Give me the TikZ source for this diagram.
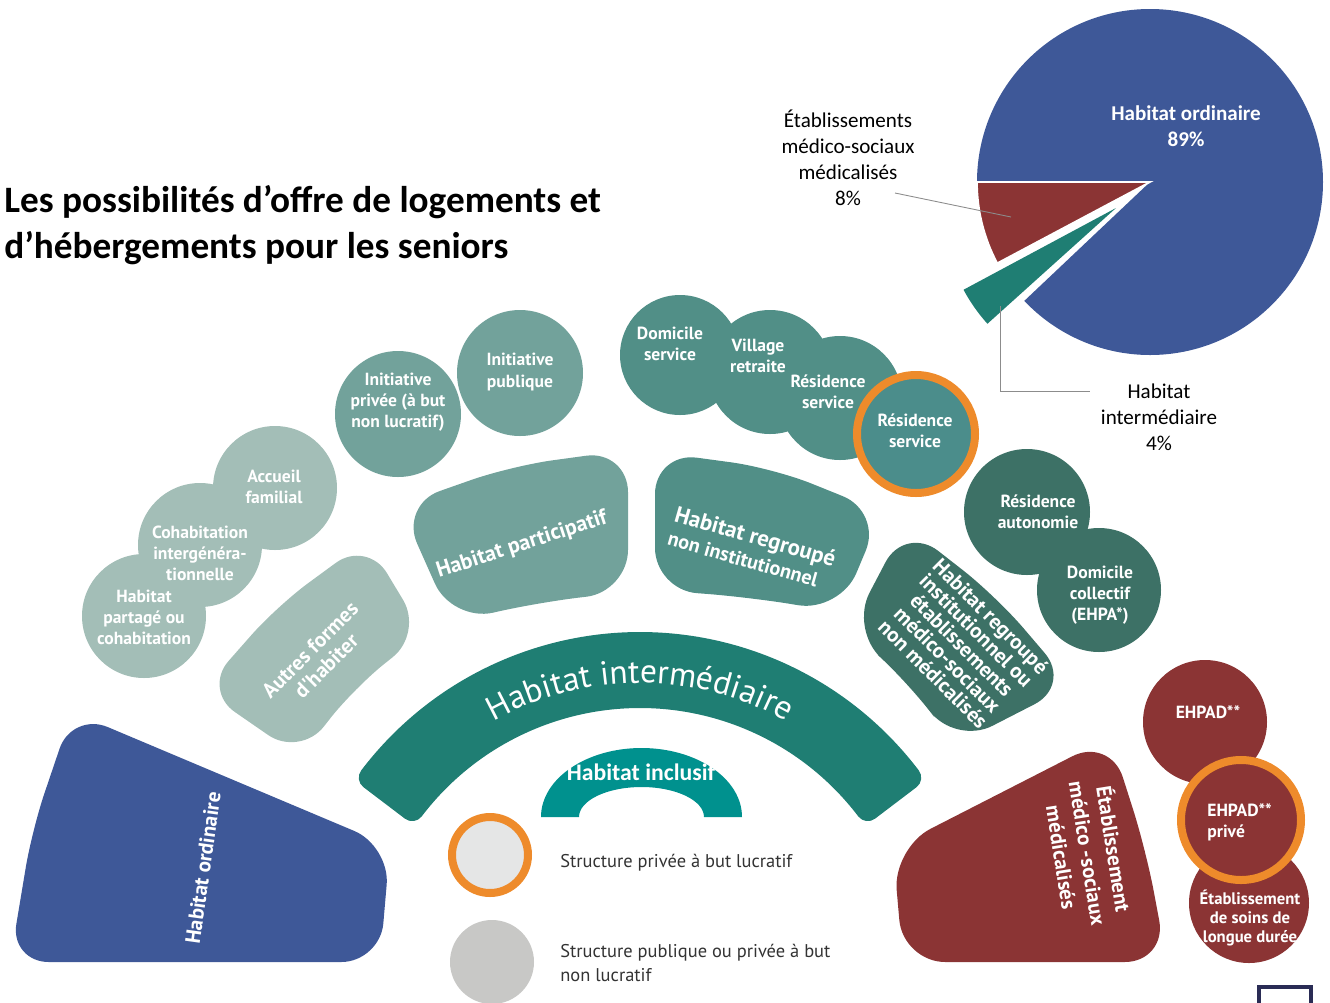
\documentclass[tikz,border=0pt]{standalone}
\usepackage{fontspec}
\setmainfont{Carlito}
\newfontfamily\diagfont{PT Sans}
\usetikzlibrary{calc,decorations.text}
\definecolor{ordblue}{HTML}{3E5898}
\definecolor{medred}{HTML}{8B3434}
\definecolor{bandteal}{HTML}{1F7E73}
\definecolor{inclteal}{HTML}{00918E}
\definecolor{sage}{HTML}{A3BEB7}
\definecolor{midteal}{HTML}{72A29B}
\definecolor{servteal}{HTML}{518F87}
\definecolor{resteal}{HTML}{4B8D8B}
\definecolor{darkteal}{HTML}{3D7166}
\definecolor{ringorange}{HTML}{EE8B2B}
\definecolor{legendlight}{HTML}{E5E6E6}
\definecolor{legendgray}{HTML}{C8C8C6}
\definecolor{navy}{HTML}{2A2C55}
\definecolor{leadgray}{HTML}{8C8C8C}
\tikzset{
  lbl/.style={text=white, font=\diagfont\bfseries\fontsize{10}{12}\selectfont, align=center, inner sep=0pt},
  biglbl/.style={lbl, font=\diagfont\bfseries\fontsize{12}{13}\selectfont},
  pielbl/.style={font=\fontsize{12}{14.8}\selectfont, align=center, inner sep=0pt},
  legendtxt/.style={font=\diagfont\fontsize{10.5}{14}\selectfont, text=black!80, align=left, inner sep=0pt},
  leadline/.style={draw=leadgray, line width=0.5pt},
  orangering/.style={draw=ringorange, line width=0.16cm},
}

\begin{document}
\begin{tikzpicture}[x=0.02cm, y=-0.02cm]
     \useasboundingbox (0,0) rectangle (1330,1002);
     \coordinate (O) at (640,982);

     % titre
     \node[anchor=west, align=left, inner sep=0pt, font=\bfseries\fontsize{21.2}{26}\selectfont] (titre) at (4,225) {Les possibilités d’offre de logements et\\d’hébergements pour les seniors};

     % camembert
     \coordinate (pc) at (1150,182);
     \fill[ordblue] (pc) -- ++(180:173) arc[start angle=180, end angle=496.6, radius=173] -- cycle;
     \filldraw[medred, draw=white, line width=1pt] (pc) -- ++(152:173) arc[start angle=152, end angle=180, radius=173] -- cycle;
     \fill[bandteal] (1116,208) -- ++(138:173) arc[start angle=138, end angle=151.8, radius=173] -- cycle;
     \node[pielbl, text=white, font=\bfseries\fontsize{12}{14.8}\selectfont] (pieord) at (1186,126) {Habitat ordinaire\\89\%};
     \node[pielbl] (piemed) at (848,158) {Établissements\\médico-sociaux\\médicalisés\\8\%};
     \node[pielbl] (pieinter) at (1159,417) {Habitat\\intermédiaire\\4\%};
     \coordinate (medfrom) at (895,193);
     \coordinate (medto) at (1011,217);
     \draw[leadline] (medfrom) -- (medto);
     \coordinate (interfrom) at (1000,306);
     \coordinate (interto) at (1090,391);
     \draw[leadline] (interfrom) |- (interto);

     % secteurs
     \fill[ordblue, rounded corners=22] (10,962) -- (32,830) -- (72,712) -- (390,846) -- (380,962) -- cycle;
     \node[biglbl, rotate=82] (ordinaire) at (203,868) {Habitat ordinaire};
     \fill[sage, rounded corners=22] (203,690) -- (277,606) -- (367,540) -- (423,633) -- (354,688) -- (300,757) -- cycle;
     \node[biglbl, rotate=45] (autres) at (318,658) {Autres formes\\d'habiter};
     \fill[midteal, rounded corners=24] (400,505) -- (511,466) -- (628,450) -- (628,592) -- (540,602) -- (452,622) -- cycle;
     \node[biglbl, rotate=18, font=\diagfont\bfseries\fontsize{12.5}{14}\selectfont] (particip) at (522,545) {Habitat participatif};
     \fill[servteal, rounded corners=24] (655,452) -- (773,468) -- (882,512) -- (840,612) -- (748,597) -- (655,590) -- cycle;
     \node[lbl, rotate=-16, align=left, font=\diagfont\bfseries\fontsize{11.5}{14}\selectfont] (regroupe) at (752,548) {{\fontsize{13}{14}\selectfont Habitat regroupé}\\non institutionnel};
     \fill[darkteal, rounded corners=24] (850,630) -- (905,525) -- (996,596) -- (1072,685) -- (955,745) -- (909,683) -- cycle;
     \node[lbl, rotate=-45, font=\diagfont\bfseries\fontsize{12}{11.6}\selectfont] (institution) at (962,645) {Habitat regroupé\\institutionnel ou\\établissements\\médico-sociaux\\non médicalisés};
     \fill[medred, rounded corners=24] (893,848) -- (1110,737) -- (1146,850) -- (1167,962) -- (903,962) -- cycle;
     \node[lbl, rotate=-81, font=\diagfont\bfseries\fontsize{12}{15}\selectfont] (medical) at (1089,853) {Établissement\\médico -sociaux\\médicalisés};

     % habitat intermediaire et inclusif
     \filldraw[bandteal, line width=0.48cm, line join=round] ($(O)+(217.2:338)$) arc[start angle=217.2, end angle=322.8, radius=338] -- ($(O)+(322.8:286)$) arc[start angle=322.8, end angle=217.2, radius=286] -- cycle;
     \path[decorate, decoration={text along path, text align=center, text color=white, text={|\diagfont\fontsize{19}{19}\selectfont|Habitat intermédiaire}}] ($(O)+(215:299)$) arc[start angle=215, end angle=325, radius=299];
     \fill[inclteal] (541,817) arc[start angle=180, end angle=360, x radius=100.5, y radius=69] -- (704,817) arc[start angle=0, end angle=-180, x radius=62.5, y radius=30] -- cycle;
     \node[font=\bfseries\fontsize{13.5}{14}\selectfont, text=white, inner sep=0pt] (inclusif) at (641,772) {Habitat inclusif};

     % legende
     \filldraw[orangering, fill=legendlight] (490,855) circle[radius=38];
     \fill[legendgray] (492,962) circle[radius=42];
     \node[legendtxt, anchor=base west] (prive) at (560,867) {Structure privée à but lucratif};
     \node[legendtxt, anchor=west] (public) at (560,963) {Structure publique ou privée à but\\non lucratif};

     % bulles
     \fill[sage] (275,488) circle[radius=62] (200,545) circle[radius=62] (144,616) circle[radius=62];
     \node[lbl] (accueil) at (274,487) {Accueil\\familial};
     \node[lbl] (cohab) at (200,553) {Cohabitation\\intergénéra-\\tionnelle};
     \node[lbl] (partage) at (144,617) {Habitat\\partagé ou\\cohabitation};
     \fill[midteal] (398,414) circle[radius=63] (520,373) circle[radius=63];
     \node[lbl] (privee) at (398,402) {Initiative\\privée (à but\\non lucratif)};
     \node[lbl] (publique) at (520,372) {Initiative\\publique};
     \fill[servteal] (680,355) circle[radius=60] (770,372) circle[radius=62] (840,398) circle[radius=62];
     \node[lbl] (domserv) at (670,344) {Domicile\\service};
     \node[lbl] (village) at (758,356) {Village\\retraite};
     \node[lbl] (resserv) at (828,392) {Résidence\\service};
     \filldraw[orangering, fill=resteal] (916,434) circle[radius=59];
     \node[lbl] (resservp) at (915,431) {Résidence\\service};
     \fill[darkteal] (1027,512) circle[radius=63] (1099,590) circle[radius=62];
     \node[lbl] (autonomie) at (1038,512) {Résidence\\autonomie};
     \node[lbl] (collectif) at (1100,595) {Domicile\\collectif\\(EHPA*)};
     \fill[medred] (1205,722) circle[radius=62] (1249,903) circle[radius=60];
     \filldraw[orangering, fill=medred] (1241,820) circle[radius=60];
     \node[lbl] (ehpad) at (1208,712) {EHPAD**};
     \node[lbl, align=left, anchor=west] (ehpadp) at (1207,822) {EHPAD**\\privé};
     \node[lbl, font=\diagfont\bfseries\fontsize{9.5}{10.8}\selectfont] (usld) at (1250,918) {Établissement\\de soins de\\longue durée};

     \draw[navy, line width=0.09cm] (1259,987) rectangle (1311,1030);
     \end{tikzpicture}
\end{document}
